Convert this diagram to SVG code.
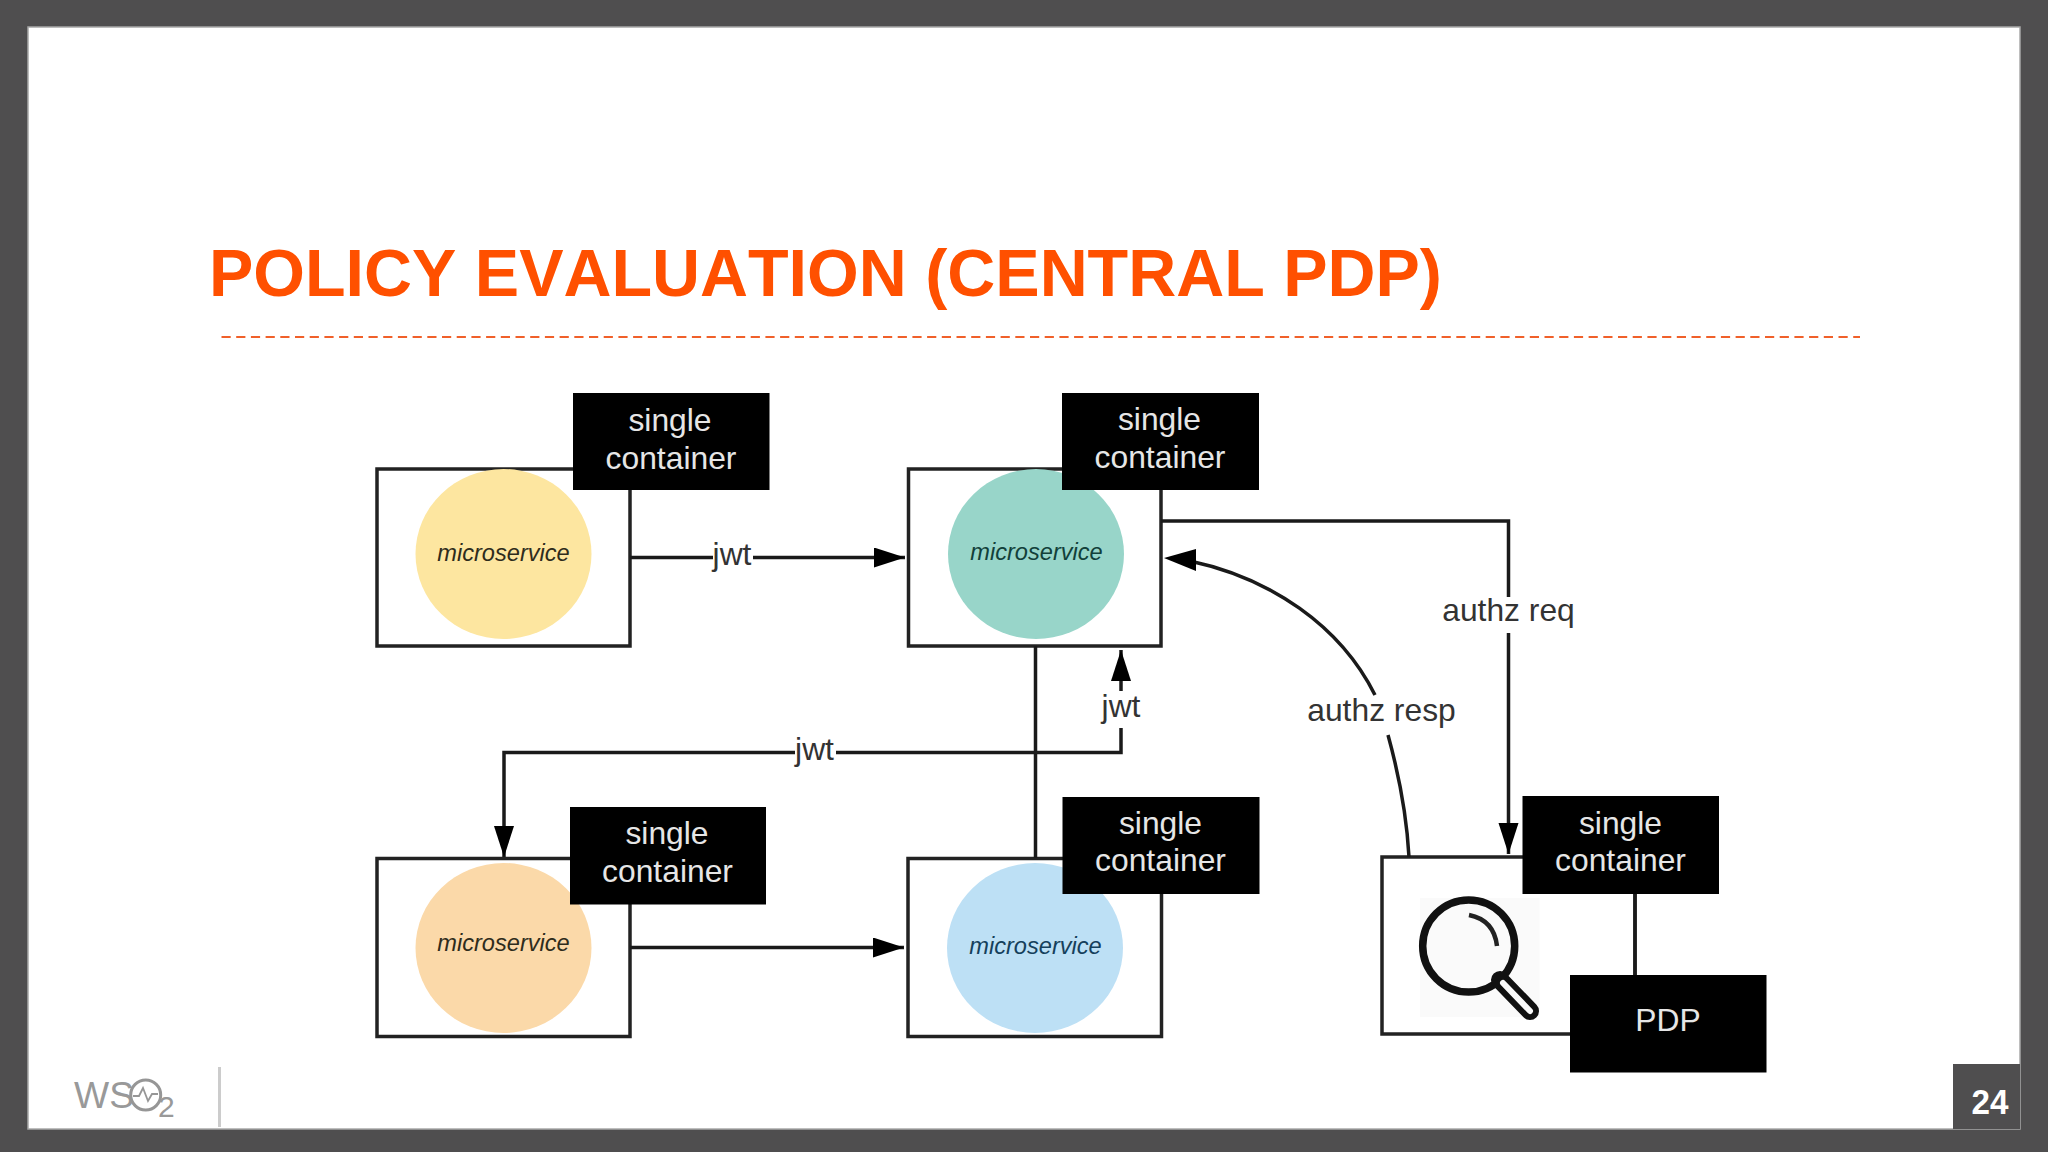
<svg xmlns="http://www.w3.org/2000/svg" width="2048" height="1152" viewBox="0 0 2048 1152">
  <defs>
    <style>
      text { font-family: "Liberation Sans", Arial, sans-serif; }
      .box { fill: #ffffff; stroke: #222222; stroke-width: 3.5; }
      .tag { fill: #000000; }
      .tagt { fill: #e6e6e6; font-size: 31.8px; text-anchor: middle; }
      .ms { font-size: 23.6px; font-style: italic; text-anchor: middle; fill: #2f2c1c; }
      .lbl { fill: #333333; font-size: 31.8px; text-anchor: middle; }
      .conn { fill: none; stroke: #1a1a1a; stroke-width: 3.5; }
      .head { fill: #000000; }
    </style>
    <marker id="arrow" markerUnits="userSpaceOnUse" markerWidth="32" markerHeight="22" refX="31" refY="10" orient="auto">
      <path class="head" d="M0 0L31 10L0 20Z"/>
    </marker>
  </defs>

  <rect id="frame" width="2048" height="1152" fill="#4f4e4f"/>
  <rect id="slide" x="28" y="27" width="1992" height="1102" fill="#ffffff" stroke="#a8a8a8" stroke-width="1.5"/>
  <rect id="pagebox" x="1953" y="1064" width="67" height="65" fill="#4f4e4f"/>
  <text id="page" x="1990" y="1114" font-size="35" font-weight="700" fill="#ffffff" text-anchor="middle" textLength="37" lengthAdjust="spacingAndGlyphs">24</text>

  <text id="title" x="209" y="296" font-size="66" font-weight="700" fill="#ff5000" style="font-kerning:none" textLength="1233" lengthAdjust="spacingAndGlyphs">POLICY EVALUATION (CENTRAL PDP)</text>
  <line id="rule" x1="221.5" y1="337" x2="1860" y2="337" stroke="#f0602a" stroke-width="2" stroke-dasharray="9.2 5.5"/>

  <g id="logo" fill="#9c9c9c">
    <text x="74" y="1108" font-size="36" fill="#999999" textLength="60" lengthAdjust="spacingAndGlyphs">WS</text>
    <circle cx="145.7" cy="1095" r="15" fill="none" stroke="#969696" stroke-width="3"/>
    <path d="M133 1096h6l4-8 5 13 4-7h6" fill="none" stroke="#969696" stroke-width="1.8"/>
    <text x="158" y="1117" font-size="30" fill="#999999">2</text>
  </g>
  <line id="logorule" x1="219.5" y1="1067" x2="219.5" y2="1127" stroke="#cccccc" stroke-width="3"/>

  <g id="node-a">
    <rect class="box" x="377" y="469" width="253" height="177"/>
    <ellipse cx="503.5" cy="554" rx="88" ry="85" fill="#fde6a0"/>
    <text class="ms" x="503.5" y="560.5">microservice</text>
    <rect class="tag" x="573" y="393" width="196.5" height="97"/>
    <text class="tagt" x="670" y="430.5">single</text>
    <text class="tagt" x="671" y="468.5">container</text>
  </g>

  <g id="node-b">
    <rect class="box" x="908.5" y="469" width="252.5" height="177"/>
    <ellipse cx="1036" cy="554" rx="88" ry="85" fill="#98d5c9"/>
    <text class="ms" x="1036.5" y="560" style="fill:#12403a">microservice</text>
    <rect class="tag" x="1062" y="393" width="197" height="97"/>
    <text class="tagt" x="1159.5" y="430">single</text>
    <text class="tagt" x="1160" y="468">container</text>
  </g>

  <g id="node-c">
    <rect class="box" x="377" y="858.5" width="253" height="178"/>
    <ellipse cx="503.5" cy="948" rx="88" ry="85" fill="#fbd9a9"/>
    <text class="ms" x="503.5" y="950.5">microservice</text>
    <rect class="tag" x="570" y="807" width="196" height="97.5"/>
    <text class="tagt" x="667" y="844">single</text>
    <text class="tagt" x="667.5" y="882">container</text>
  </g>

  <g id="node-d">
    <rect class="box" x="908" y="858.5" width="253.5" height="178"/>
    <ellipse cx="1035" cy="948" rx="88" ry="85" fill="#bde0f5"/>
    <text class="ms" x="1035.5" y="954" style="fill:#15405c">microservice</text>
    <rect class="tag" x="1062.5" y="797" width="197" height="97"/>
    <text class="tagt" x="1160.5" y="833.5">single</text>
    <text class="tagt" x="1160.5" y="871">container</text>
  </g>

  <g id="node-e">
    <rect class="box" x="1382" y="857" width="253" height="177"/>
    <rect x="1420" y="898" width="119.5" height="119" fill="#fafafa"/>
    <circle cx="1468.7" cy="946" r="46" fill="none" stroke="#111111" stroke-width="7.5"/>
    <path d="M1469 915Q1494 920 1497 946" fill="none" stroke="#222222" stroke-width="4.5"/>
    <line x1="1500" y1="980" x2="1530" y2="1011" stroke="#111111" stroke-width="18" stroke-linecap="round"/>
    <line x1="1503" y1="983" x2="1530" y2="1011" stroke="#fafafa" stroke-width="6" stroke-linecap="round"/>
    <rect class="tag" x="1522.5" y="796" width="196.5" height="98"/>
    <text class="tagt" x="1620.5" y="833.5">single</text>
    <text class="tagt" x="1620.5" y="871">container</text>
  </g>

  <g id="node-pdp">
    <rect class="tag" x="1570" y="975" width="196.5" height="97.5"/>
    <text class="tagt" x="1668" y="1031">PDP</text>
  </g>

  <g id="connectors">
    <path class="conn" d="M630 557.5H713"/>
    <path class="conn" d="M753 557.5H905" marker-end="url(#arrow)"/>
    <text class="lbl" x="732" y="565">jwt</text>

    <path class="conn" d="M630 947.5H904" marker-end="url(#arrow)"/>

    <path class="conn" d="M1035.5 646V858"/>

    <path class="conn" d="M1121 728V752.5H836"/>
    <path class="conn" d="M1121 691V650" marker-end="url(#arrow)"/>
    <text class="lbl" x="1121" y="717">jwt</text>

    <path class="conn" d="M795 752.5H504V857" marker-end="url(#arrow)"/>
    <text class="lbl" x="814.5" y="760">jwt</text>

    <path class="conn" d="M1161 521H1508.5V597"/>
    <path class="conn" d="M1508.5 633V854" marker-end="url(#arrow)"/>
    <text class="lbl" x="1508.5" y="621">authz req</text>

    <path class="conn" d="M1409 857C1407 820 1399 775 1388 735"/>
    <path class="conn" d="M1375 695C1340 625 1270 578 1190 561"/>
    <path class="head" d="M1164 558L1196 549L1196 571Z"/>
    <text class="lbl" x="1381.5" y="721">authz resp</text>

    <path class="conn" d="M1635 894V975"/>
  </g>
</svg>
